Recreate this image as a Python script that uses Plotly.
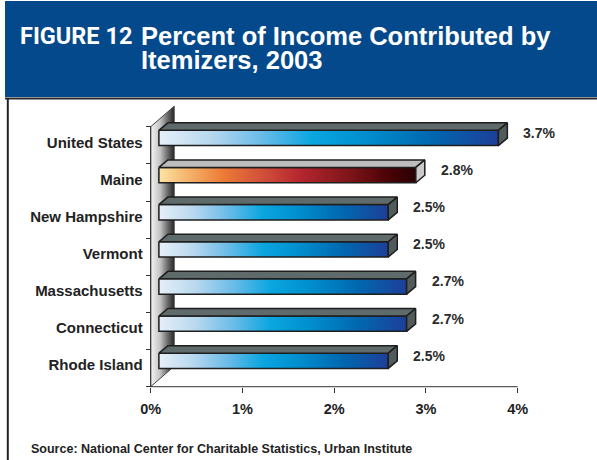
import plotly.graph_objects as go

# ---------------- data ----------------
categories = ["United States", "Maine", "New Hampshire", "Vermont",
              "Massachusetts", "Connecticut", "Rhode Island"]
values = [3.7, 2.8, 2.5, 2.5, 2.7, 2.7, 2.5]
highlight = ["Maine"]
x_ticks = [0, 1, 2, 3, 4]
x_tick_labels = ["0%", "1%", "2%", "3%", "4%"]

title_lead = "FIGURE 12"
title_line1 = "Percent of Income Contributed by"
title_line2 = "Itemizers, 2003"
source_text = "Source: National Center for Charitable Statistics, Urban Institute"

# ---------------- geometry / style ----------------
W, H = 597, 460
PX_X = 91.75      # pixels per 1 %
ORIGIN_X = 150.7  # pixel of 0 %
PX_Y = 37.14      # pixels per category
FIRST_Y = 145.3   # pixel of first category centre
AXIS_Y = 386.7

xr = [-ORIGIN_X / PX_X, (W - ORIGIN_X) / PX_X]
yr = [(H - FIRST_Y) / PX_Y, -FIRST_Y / PX_Y]

def ux(px):
    return px / PX_X

def uy(px):
    return px / PX_Y

FONT = "Liberation Sans, Arial, sans-serif"
DARK = "#1e1e1e"

blue_scale = [[0, "#e6eff8"], [0.15, "#b8d8ef"], [0.3, "#6bbce8"],
              [0.45, "#0ba6e0"], [0.6, "#0090d0"], [0.8, "#0068b0"],
              [1, "#1d3f99"]]
red_scale = [[0, "#fbe4a6"], [0.12, "#f5b068"], [0.25, "#ec7b36"],
             [0.4, "#d2503a"], [0.55, "#b5262e"], [0.75, "#7b1418"],
             [0.9, "#480206"], [1, "#2a0004"]]
wall_scale = [[0, "#f4f4f4"], [0.4, "#c4c4c4"], [0.7, "#707070"], [1, "#252525"]]

fig = go.Figure()

# back/left wall
wdx, wdy = ux(23.5), uy(20.5)
y_top, y_bot = -0.5, len(categories) - 0.5
fig.add_trace(go.Scatter(
    x=[0, wdx, wdx, 0, 0], y=[y_top, y_top - wdy, y_bot - wdy, y_bot, y_top],
    mode="lines", fill="toself",
    fillgradient=dict(type="horizontal", colorscale=wall_scale),
    line=dict(color="#444444", width=1), hoverinfo="skip", showlegend=False))

# bars
d0 = ux(8.2)
bdx, bdy = ux(9), uy(7.5)
f_top, f_bot = uy(15), uy(0.3)
for i, (cat, v) in enumerate(zip(categories, values)):
    hl = cat in highlight
    x0, x1 = d0, v + d0
    t, b = i - f_top, i + f_bot
    # front face
    fig.add_trace(go.Scatter(
        x=[x0, x1, x1, x0, x0], y=[t, t, b, b, t], mode="lines", fill="toself",
        fillgradient=dict(type="horizontal", colorscale=red_scale if hl else blue_scale),
        line=dict(color=DARK, width=1.5), hoverinfo="skip", showlegend=False))
    # top face
    fig.add_trace(go.Scatter(
        x=[x0, x0 + bdx, x1 + bdx, x1, x0], y=[t, t - bdy, t - bdy, t, t],
        mode="lines", fill="toself",
        fillcolor="#bdbdbd" if hl else "#5f6a6a",
        line=dict(color=DARK, width=1.5), hoverinfo="skip", showlegend=False))
    # side face
    fig.add_trace(go.Scatter(
        x=[x1, x1 + bdx, x1 + bdx, x1, x1], y=[t, t - bdy, b - bdy, b, t],
        mode="lines", fill="toself",
        fillcolor="#c9c9c9" if hl else "#515b5b",
        line=dict(color=DARK, width=1.5), hoverinfo="skip", showlegend=False))
    # value label
    fig.add_annotation(x=v + d0 + ux(23), y=i - uy(12.5), text=f"{v}%",
                       xref="x", yref="y", xanchor="left", yanchor="middle",
                       showarrow=False,
                       font=dict(family=FONT, size=14, color="#2b2b2b", weight="bold"))

# axis lines
fig.add_shape(type="line", xref="x", yref="y", x0=0, x1=0, y0=y_top, y1=y_bot,
              line=dict(color="#333333", width=1))
fig.add_shape(type="line", xref="x", yref="y", x0=0, x1=x_ticks[-1], y0=y_bot, y1=y_bot,
              line=dict(color="#333333", width=1))

# title band and frame
fig.add_shape(type="rect", xref="paper", yref="paper", x0=5 / W, x1=1,
              y0=1 - 97 / H, y1=1 - 1 / H, fillcolor="#04498b", line=dict(width=0),
              layer="below")
fig.add_shape(type="line", xref="paper", yref="paper", x0=5 / W, x1=1,
              y0=1 - 98.5 / H, y1=1 - 98.5 / H, line=dict(color="#2a2a2a", width=2))
fig.add_shape(type="line", xref="paper", yref="paper", x0=7.8 / W, x1=7.8 / W,
              y0=0, y1=1 - 98 / H, line=dict(color="#222222", width=2))

fig.add_annotation(x=18 / W, y=1 - 36 / H, xref="paper", yref="paper", text=title_lead,
                   xanchor="left", yanchor="middle", showarrow=False,
                   font=dict(family="Roboto, " + FONT, size=23.5,
                             color="white", weight="bold"))
fig.add_annotation(x=139 / W, y=1 - 36 / H, xref="paper", yref="paper", text=title_line1,
                   xanchor="left", yanchor="middle", showarrow=False,
                   font=dict(family=FONT, size=25.5, color="white", weight="bold"))
fig.add_annotation(x=139 / W, y=1 - 60.5 / H, xref="paper", yref="paper", text=title_line2,
                   xanchor="left", yanchor="middle", showarrow=False,
                   font=dict(family=FONT, size=25.5, color="white", weight="bold"))
fig.add_annotation(x=29 / W, y=1 - 449 / H, xref="paper", yref="paper", text=source_text,
                   xanchor="left", yanchor="middle", showarrow=False,
                   font=dict(family=FONT, size=12.5, color="#222222", weight="bold"))

fig.update_layout(
    width=W, height=H, autosize=False,
    margin=dict(l=0, r=0, t=0, b=0, pad=0),
    paper_bgcolor="white", plot_bgcolor="rgba(0,0,0,0)",
    showlegend=False,
    xaxis=dict(range=xr, domain=[0, 1], anchor="free", position=(H - AXIS_Y) / H,
               tickmode="array", tickvals=x_ticks, ticktext=x_tick_labels,
               ticks="outside", ticklen=5, tickcolor="#333333", tickwidth=1,
               showgrid=False, zeroline=False, showline=False,
               tickfont=dict(family=FONT, size=14.5, color="#222222", weight="bold"),
               ticklabelstandoff=4, fixedrange=True),
    yaxis=dict(range=yr, domain=[0, 1], anchor="free", position=ORIGIN_X / W,
               tickmode="array", tickvals=list(range(len(categories))),
               ticktext=categories, ticks="",
               minor=dict(tickmode="array",
                          tickvals=[k - 0.5 for k in range(len(categories) + 1)],
                          ticks="outside", ticklen=5, tickcolor="#333333", tickwidth=1,
                          showgrid=False),
               showgrid=False, zeroline=False, showline=False,
               tickfont=dict(family=FONT, size=15, color="#222222", weight="bold"),
               ticklabelstandoff=8, ticklabelshift=3, fixedrange=True),
)

fig.write_html("out.html", config={"displayModeBar": False},
               post_script="document.body.style.margin='0';document.body.style.overflow='hidden';")
